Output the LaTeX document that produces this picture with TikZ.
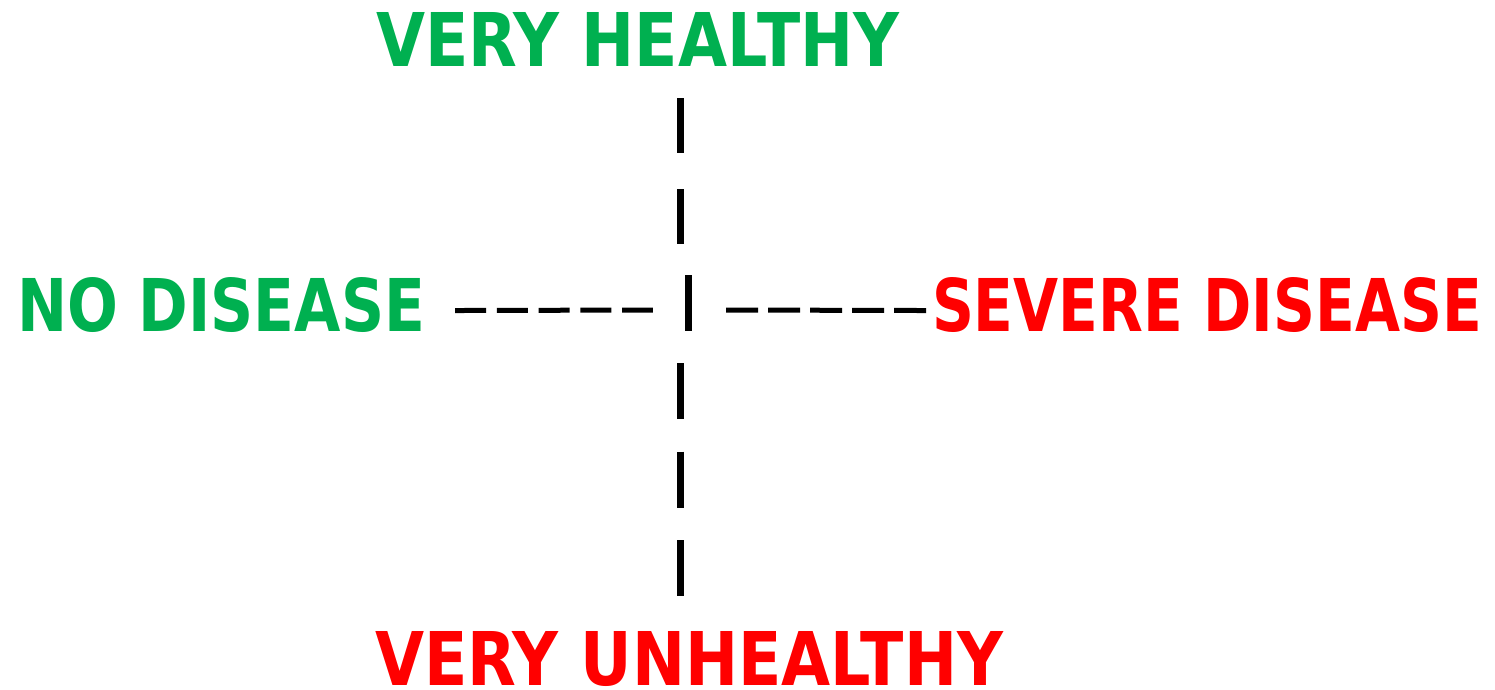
\documentclass[tikz,border=0pt]{standalone}
\usepackage{fontspec}
\usepackage{graphicx}
\setmainfont{DejaVu Sans}
\definecolor{goodgreen}{HTML}{00B050}
\definecolor{badred}{HTML}{FF0000}
\tikzset{
  label/.style={inner sep=0pt, outer sep=0pt, font=\bfseries},
  vdashline/.style={line width=7pt, black},
  hdashline/.style={line width=5pt, black},
}
\newcommand{\fitword}[3]{\resizebox{#1pt}{#2pt}{#3}}
\begin{document}
\begin{tikzpicture}[x=1pt, y=-1pt]
  \useasboundingbox (0,0) rectangle (1495,689);
  % the four ends of the two scales
  \node[label, anchor=north west, text=goodgreen] (vh) at (376,12) {\fitword{523}{54}{VERY HEALTHY}};
  \node[label, anchor=north west, text=badred] (vu) at (375,631) {\fitword{628}{54}{VERY UNHEALTHY}};
  \node[label, anchor=north west, text=goodgreen] (nd) at (17,277) {\fitword{408}{54}{NO DISEASE}};
  \node[label, anchor=north west, text=badred] (sd) at (932,277) {\fitword{550}{54}{SEVERE DISEASE}};
  % centre mark
  \node[fill=black, inner sep=0pt, minimum width=7pt, minimum height=56pt] (bar) at (688.5,303) {};
  \coordinate (axis) at (680.5,303);
  % health axis (vertical)
  \draw[vdashline, dash pattern=on 55pt off 36pt]
    ([yshift=-32pt]axis |- vh.south) -- ([yshift=31pt]axis |- bar.north);
  \draw[vdashline, dash pattern=on 56pt off 32.5pt]
    ([yshift=-32pt]axis |- bar.south) -- ([yshift=35pt]axis |- vu.north);
  % disease axis (horizontal)
  \draw[hdashline, dash pattern=on 31pt off 10.75pt]
    ([xshift=30pt, yshift=-6pt]nd.east) -- ([xshift=-32pt]bar.west |- 0,310);
  \draw[hdashline, dash pattern=on 32pt off 10pt]
    ([xshift=34pt]bar.east |- 0,310) -- ([xshift=-6pt, yshift=-6pt]sd.west);
\end{tikzpicture}
\end{document}
